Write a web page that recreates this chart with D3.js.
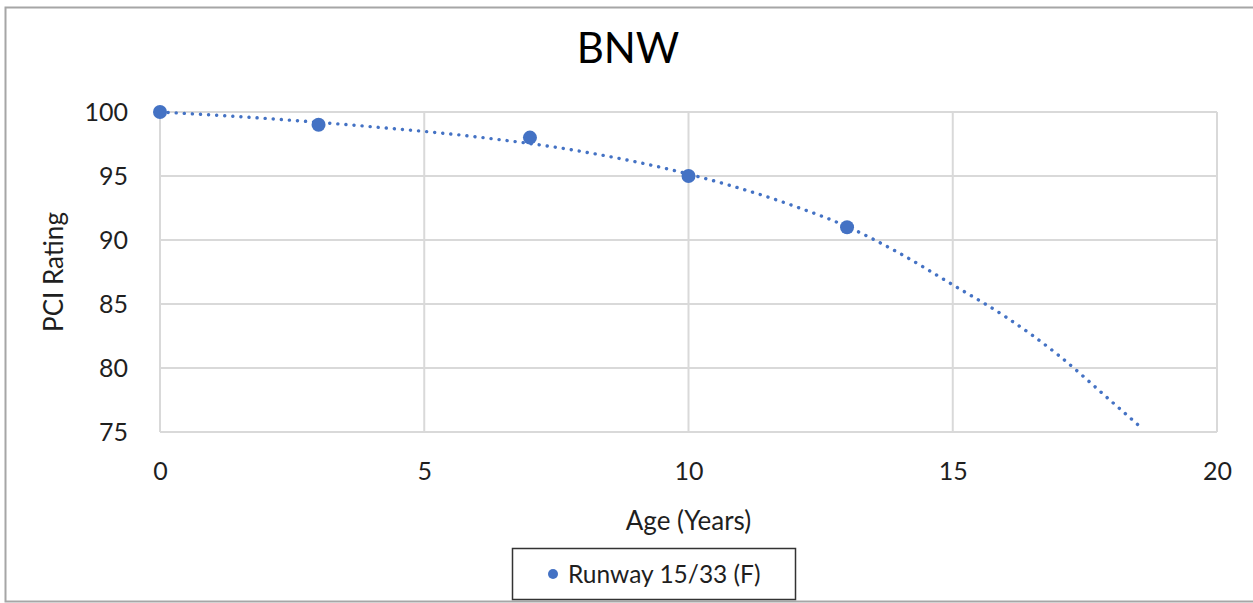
<!DOCTYPE html>
<html>
<head>
<meta charset="utf-8">
<script src="https://cdn.jsdelivr.net/npm/d3@7"></script>
<style>
  html, body { margin: 0; padding: 0; background: #fff; }
  svg { display: block; font-family: Lato, "Open Sans", sans-serif; }
</style>
</head>
<body>
<svg id="chart" width="1253" height="603"></svg>
<script>
// Observed PCI ratings by pavement age
const ages = [0, 3, 7, 10, 13];
const pciValues = [100, 99, 98, 95, 91];

// Dotted trend line through the observations, projected forward
const trendAges = [0, 2, 4, 6, 8, 10, 12, 13, 14, 15, 16, 17, 18, 18.55];
const trendValues = [100, 99.5, 98.85, 98.05, 96.9, 95.15, 92.65, 91.05, 88.95, 86.5, 84.0, 81.0, 77.4, 75.4];

const xTicks = [0, 5, 10, 15, 20];
const yTicks = [75, 80, 85, 90, 95, 100];

const chartTitle = "BNW";
const xTitle = "Age (Years)";
const yTitle = "PCI Rating";
const seriesName = "Runway 15/33 (F)";

const blue = "#4472C4";
const grid = "#d9d9d9";
const ink = "#1f1f1f";

const svg = d3.select("#chart");

// Chart frame
svg.append("rect")
  .attr("x", 5.5).attr("y", 7.5)
  .attr("width", 1270).attr("height", 594)
  .attr("fill", "#fff")
  .attr("stroke", "#a6a6a6").attr("stroke-width", 2);

const plot = { left: 160, right: 1217, top: 112, bottom: 432 };

const x = d3.scaleLinear().domain([0, 20]).range([plot.left, plot.right]);
const y = d3.scaleLinear().domain([75, 100]).range([plot.bottom, plot.top]);

// Gridlines
const g = svg.append("g");
g.selectAll("line.h").data(yTicks).join("line")
  .attr("class", "h")
  .attr("x1", plot.left).attr("x2", plot.right)
  .attr("y1", d => y(d)).attr("y2", d => y(d))
  .attr("stroke", grid).attr("stroke-width", 2);
g.selectAll("line.v").data(xTicks).join("line")
  .attr("class", "v")
  .attr("x1", d => x(d)).attr("x2", d => x(d))
  .attr("y1", plot.top).attr("y2", plot.bottom)
  .attr("stroke", grid).attr("stroke-width", 2);

// Axes (labels only; the gridlines draw the frame)
const xAxis = svg.append("g")
  .attr("transform", `translate(0,${plot.bottom})`)
  .call(d3.axisBottom(x).tickValues(xTicks).tickSize(0).tickPadding(30));
const yAxis = svg.append("g")
  .attr("transform", `translate(${plot.left},0)`)
  .call(d3.axisLeft(y).tickValues(yTicks).tickSize(0).tickPadding(32));
[xAxis, yAxis].forEach(a => {
  a.select(".domain").remove();
  a.selectAll("text")
    .attr("fill", ink)
    .style("font-size", "25px")
    .style("font-family", "Lato, 'Open Sans', sans-serif");
});

// Trend line
const line = d3.line()
  .x((d, i) => x(trendAges[i]))
  .y(d => y(d))
  .curve(d3.curveMonotoneX);
svg.append("path")
  .datum(trendValues)
  .attr("d", line)
  .attr("fill", "none")
  .attr("stroke", blue)
  .attr("stroke-width", 3.4)
  .attr("stroke-linecap", "round")
  .attr("stroke-dasharray", "0.1 8");

// Observation markers
svg.selectAll("circle.pt").data(pciValues).join("circle")
  .attr("class", "pt")
  .attr("cx", (d, i) => x(ages[i]))
  .attr("cy", d => y(d))
  .attr("r", 7)
  .attr("fill", blue);

// Titles
svg.append("text")
  .attr("x", 628).attr("y", 63)
  .attr("text-anchor", "middle")
  .attr("fill", "#000")
  .style("font-size", "42px")
  .text(chartTitle);

svg.append("text")
  .attr("x", (plot.left + plot.right) / 2).attr("y", 530)
  .attr("text-anchor", "middle")
  .attr("fill", ink)
  .style("font-size", "26px")
  .text(xTitle);

svg.append("text")
  .attr("transform", `translate(63,${(plot.top + plot.bottom) / 2}) rotate(-90)`)
  .attr("text-anchor", "middle")
  .attr("fill", ink)
  .style("font-size", "26px")
  .text(yTitle);

// Legend
const legend = svg.append("g");
legend.append("rect")
  .attr("x", 512.5).attr("y", 548.5)
  .attr("width", 283).attr("height", 51)
  .attr("fill", "#fff")
  .attr("stroke", "#333").attr("stroke-width", 1.5);
legend.append("circle")
  .attr("cx", 553).attr("cy", 574).attr("r", 5)
  .attr("fill", blue);
legend.append("text")
  .attr("x", 568).attr("y", 583)
  .attr("fill", ink)
  .style("font-size", "24.5px")
  .text(seriesName);
</script>
</body>
</html>
